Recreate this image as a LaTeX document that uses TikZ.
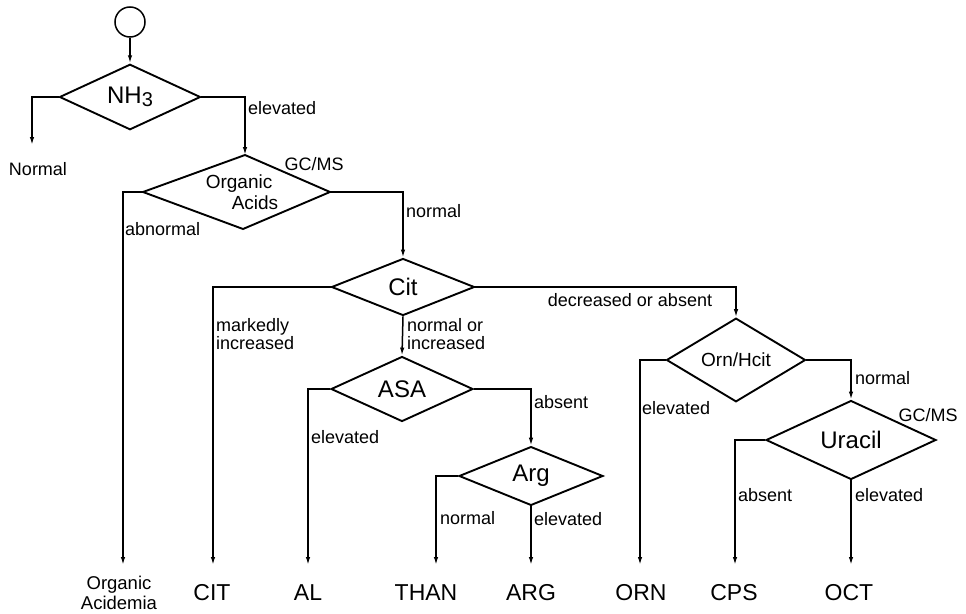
\documentclass[tikz,border=0pt]{standalone}
\usepackage{fontspec}
\setmainfont{Liberation Sans}
\usetikzlibrary{shapes.geometric,arrows.meta}
\begin{document}
\begin{tikzpicture}[x=1pt,y=-1pt,
  conn/.style={line width=1.5pt},
  arr/.style={conn,-{Latex[length=8pt,width=4.5pt]}},
  dia/.style={draw,shape=diamond,line width=1.9pt,inner sep=0pt},
  bigf/.style={font=\fontsize{24}{28}\selectfont},
  midf/.style={font=\fontsize{19}{21}\selectfont},
  lbl/.style={font=\fontsize{18}{18}\selectfont,anchor=west,inner sep=0pt,align=left},
  leaf/.style={font=\fontsize{23}{26}\selectfont,inner sep=0pt},
]
\useasboundingbox (0,0) rectangle (966,613);

% decision nodes
\node[draw,circle,minimum size=30pt,inner sep=0pt,line width=1.5pt] (start) at (130,22) {};
\node[dia,bigf,minimum width=141pt,minimum height=57pt] (nh) at (130,97) {NH\raisebox{-3pt}{\fontsize{20}{20}\selectfont 3}};

\coordinate (oaT) at (245,155);
\coordinate (oaL) at (143,192);
\coordinate (oaR) at (330,192);
\coordinate (oaB) at (243,229);
\draw[line width=1.9pt] (oaT) -- (oaR) -- (oaB) -- (oaL) -- cycle;
\node[midf,align=left,inner sep=0pt] (oa) at (242,192) {Organic\\\hspace*{26pt}Acids};

\node[dia,bigf,minimum width=143pt,minimum height=57pt] (cit) at (403,287) {Cit};
\node[dia,bigf,minimum width=142pt,minimum height=57pt] (asa) at (402,389) {ASA};
\node[dia,bigf,minimum width=144pt,minimum height=57pt] (arg) at (531,476) {Arg};
\node[dia,midf,minimum width=139pt,minimum height=58pt] (orn) at (736,360) {Orn/Hcit};
\node[dia,bigf,minimum width=170pt,minimum height=71pt] (ura) at (851,440) {Uracil};

% leaves
\node[inner sep=0pt,align=center,font=\fontsize{18.5}{20}\selectfont] (oacid) at (119,593) {Organic\\Acidemia};
\node[leaf] (lcit) at (212,593) {CIT};
\node[leaf] (lal) at (308,593) {AL};
\node[leaf] (lthan) at (426,593) {THAN};
\node[leaf] (larg) at (531,593) {ARG};
\node[leaf] (lorn) at (641,593) {ORN};
\node[leaf] (lcps) at (734,593) {CPS};
\node[leaf] (loct) at (849,593) {OCT};
\node[lbl,anchor=center] (normal) at (38,169) {Normal};

% arrow ends
\coordinate (eNormal) at (32,145);
\coordinate (eOA) at (123,565);
\coordinate (eCIT) at (213,565);
\coordinate (eAL) at (308,565);
\coordinate (eTHAN) at (436,565);
\coordinate (eARG) at (531,565);
\coordinate (eORN) at (640,565);
\coordinate (eCPS) at (735,565);
\coordinate (eOCT) at (851,565);

% connectors
\draw[arr] (start.south) -- (nh.north);
\draw[arr] (nh.west) -| (eNormal);
\draw[arr] (nh.east) -| (oaT);
\draw[arr] (oaL) -| (eOA);
\draw[arr] (oaR) -| (cit.north);
\draw[arr] (cit.west) -| (eCIT);
\draw[arr] (cit.south) -- (asa.north);
\draw[arr] (cit.east) -| (orn.north);
\draw[arr] (asa.west) -| (eAL);
\draw[arr] (asa.east) -| (arg.north);
\draw[arr] (arg.west) -| (eTHAN);
\draw[arr] (arg.south) -- (eARG);
\draw[arr] (orn.west) -| (eORN);
\draw[arr] (orn.east) -| (ura.north);
\draw[arr] (ura.west) -| (eCPS);
\draw[arr] (ura.south) -- (eOCT);

% edge labels
\node[lbl] (t1) at (248,108) {elevated};
\node[lbl,anchor=center] (t2) at (314,164) {GC/MS};
\node[lbl] (t3) at (125,229) {abnormal};
\node[lbl] (t4) at (406,211) {normal};
\node[lbl] (t5) at (216,334) {markedly\\increased};
\node[lbl] (t6) at (407,334) {normal or\\increased};
\node[lbl,anchor=center] (t7) at (630,300) {decreased or absent};
\node[lbl] (t8) at (311,437) {elevated};
\node[lbl] (t9) at (534,402) {absent};
\node[lbl] (t10) at (440,518) {normal};
\node[lbl] (t11) at (534,519) {elevated};
\node[lbl] (t12) at (642,408) {elevated};
\node[lbl] (t13) at (855,378) {normal};
\node[lbl,anchor=center] (t14) at (928,415) {GC/MS};
\node[lbl] (t15) at (738,495) {absent};
\node[lbl] (t16) at (855,495) {elevated};
\end{tikzpicture}
\end{document}
